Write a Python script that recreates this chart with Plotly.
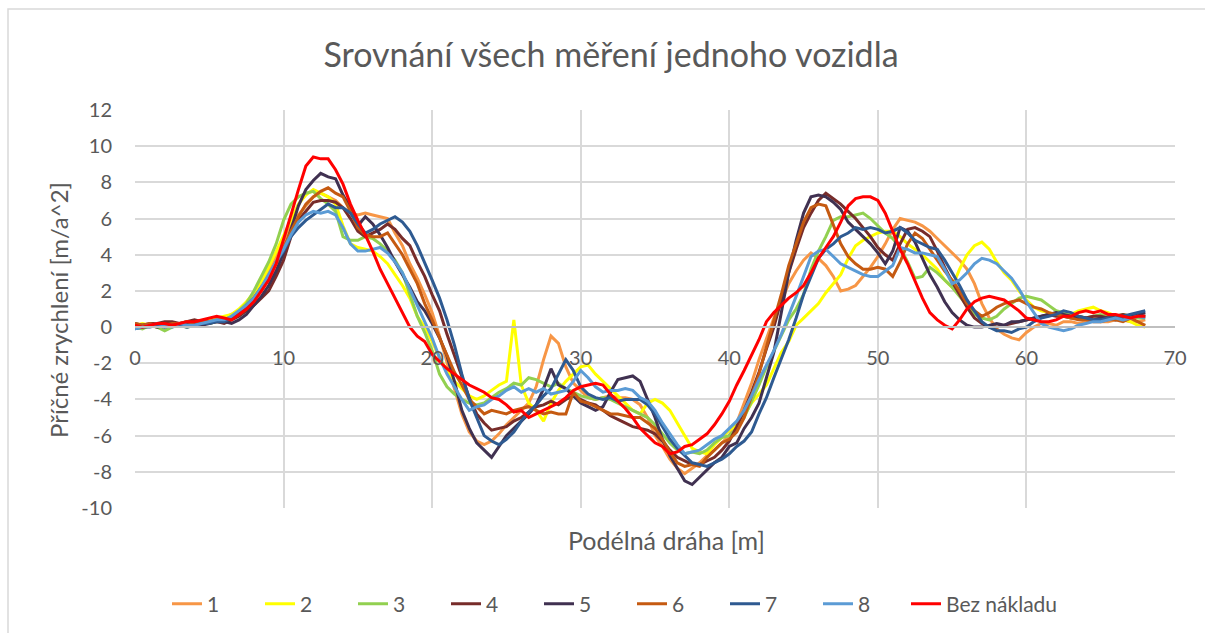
import plotly.graph_objects as go

# ---------------- data ----------------
STEP_M = 0.5
distance_m = [round(STEP_M * i, 1) for i in range(137)]  # 0 .. 68 m

s1 = [0.1, 0.0, 0.1, 0.1, 0.2, 0.1, 0.2, 0.2, 0.3, 0.2,
      0.3, 0.4, 0.5, 0.7, 0.9, 1.3, 1.8, 2.4, 3.1, 3.9,
      4.8, 5.6, 6.2, 6.7, 7.2, 7.4, 7.2, 7.0, 6.6, 6.3,
      6.2, 6.3, 6.2, 6.1, 6.0, 5.2, 4.5, 3.5, 2.7, 1.8,
      0.8, -0.5, -2.0, -3.4, -4.8, -5.8, -6.3, -6.5, -6.3, -5.9,
      -5.4, -5.0, -4.6, -4.2, -3.3, -1.8, -0.5, -0.9, -2.2, -3.1,
      -3.5, -3.9, -4.0, -3.9, -3.8, -3.9, -3.9, -4.0, -4.3, -5.0,
      -6.0, -6.6, -7.3, -7.8, -8.1, -7.8, -7.5, -7.1, -6.8, -6.4,
      -6.0, -5.3, -4.2, -3.1, -1.8, -0.6, 0.5, 1.4, 2.4, 3.1,
      3.7, 4.1, 3.8, 3.4, 2.8, 2.0, 2.1, 2.3, 2.8, 3.3,
      3.9, 4.6, 5.4, 6.0, 5.9, 5.8, 5.6, 5.3, 4.9, 4.5,
      4.1, 3.7, 3.2, 2.4, 1.3, 0.5, -0.1, -0.4, -0.6, -0.7,
      -0.3, 0.0, 0.2, 0.2, 0.1, 0.3, 0.3, 0.2, 0.3, 0.4,
      0.3, 0.3, 0.4, 0.4, 0.3, 0.3, 0.4]

s2 = [0.1, 0.2, 0.1, 0.0, 0.2, 0.2, 0.1, 0.2, 0.3, 0.3,
      0.4, 0.5, 0.6, 0.7, 1.0, 1.4, 1.9, 2.5, 3.3, 4.2,
      5.1, 6.0, 6.8, 7.3, 7.6, 7.4, 7.2, 6.8, 5.6, 4.6,
      4.4, 4.3, 4.2, 3.9, 3.5, 2.9, 2.3, 1.6, 0.6, 0.0,
      -0.8, -1.7, -2.4, -3.0, -3.4, -3.8, -4.0, -3.8, -3.5, -3.2,
      -3.0, 0.4, -3.2, -4.2, -4.6, -5.2, -4.2, -3.5, -3.0, -2.6,
      -2.2, -2.1, -2.6, -3.0, -3.4, -3.8, -4.2, -4.6, -4.8, -4.2,
      -4.0, -4.2, -4.6, -5.3, -6.0, -6.7, -6.9, -7.0, -6.5, -6.1,
      -5.7, -5.4, -4.9, -4.2, -3.7, -3.2, -2.3, -1.4, -0.8, 0.1,
      0.5, 0.9, 1.3, 1.9, 2.4, 2.9, 3.8, 4.5, 4.8, 5.0,
      5.2, 5.3, 5.3, 5.0, 4.6, 4.3, 4.0, 3.6, 3.2, 2.6,
      2.2, 3.2, 4.0, 4.5, 4.7, 4.3, 3.6, 3.0, 2.6, 2.0,
      1.5, 1.1, 0.9, 0.8, 0.7, 0.8, 0.7, 0.9, 1.0, 1.1,
      0.9, 0.8, 0.6, 0.4, 0.3, 0.1, 0.0]

s3 = [0.0, -0.1, 0.1, 0.0, -0.2, 0.0, 0.1, 0.0, 0.1, 0.2,
      0.2, 0.3, 0.4, 0.6, 0.9, 1.3, 2.0, 2.8, 3.6, 4.6,
      5.9, 6.8, 7.2, 7.4, 7.5, 7.1, 6.8, 6.4, 5.0, 4.8,
      4.8, 5.0, 4.9, 4.6, 4.2, 3.7, 3.0, 1.8, 0.6, -0.3,
      -1.3, -2.6, -3.3, -3.7, -4.0, -4.2, -4.3, -4.2, -3.9, -3.6,
      -3.4, -3.1, -3.2, -2.8, -2.9, -3.1, -3.3, -3.1, -3.4, -3.6,
      -3.8, -3.9, -4.0, -3.9, -4.0, -4.2, -4.4, -4.6, -4.8, -5.0,
      -5.4, -5.9, -6.4, -6.8, -7.0, -6.9, -7.0, -6.8, -6.4, -6.1,
      -6.0, -5.6, -5.0, -4.1, -3.2, -2.2, -1.3, -0.4, 0.4, 1.0,
      1.8, 3.2, 4.2, 5.0, 5.9, 6.1, 6.1, 6.2, 6.3, 6.0,
      5.6, 5.2, 4.9, 4.4, 3.6, 2.7, 2.8, 3.3, 3.0, 2.6,
      2.2, 1.7, 1.2, 0.7, 0.5, 0.4, 0.6, 1.0, 1.3, 1.6,
      1.7, 1.6, 1.5, 1.2, 0.9, 0.8, 0.6, 0.6, 0.5, 0.6,
      0.7, 0.6, 0.6, 0.7, 0.6, 0.5, 0.5]

s4 = [0.2, 0.1, 0.2, 0.2, 0.3, 0.3, 0.2, 0.3, 0.4, 0.3,
      0.3, 0.3, 0.2, 0.4, 0.6, 0.9, 1.2, 1.6, 2.0, 2.8,
      3.7, 5.0, 5.9, 6.4, 6.9, 7.0, 7.0, 6.9, 6.6, 6.0,
      5.3, 5.0, 5.2, 5.4, 5.7, 5.4, 4.9, 4.5, 3.6, 2.8,
      1.8, 0.9, -0.4, -1.6, -2.8, -3.9, -4.8, -5.3, -5.7, -5.6,
      -5.5, -5.2, -5.0, -4.7, -4.4, -4.3, -4.1, -4.3, -4.0, -3.8,
      -4.0, -4.2, -4.3, -4.6, -4.9, -5.1, -5.3, -5.5, -5.6, -5.7,
      -5.9, -6.3, -6.8, -7.2, -7.4, -7.6, -7.6, -7.4, -7.2, -6.8,
      -6.3, -5.5, -4.6, -3.6, -2.5, -1.2, 0.0, 1.5, 3.0, 4.3,
      5.5, 6.3, 7.0, 7.4, 7.1, 6.8, 6.4, 6.0, 5.5, 5.0,
      4.4, 4.0, 3.7, 4.6, 5.4, 5.5, 5.3, 5.0, 4.2, 3.3,
      2.5, 1.8, 1.1, 0.5, 0.2, 0.0, 0.0, 0.1, 0.2, 0.3,
      0.4, 0.5, 0.6, 0.7, 0.6, 0.6, 0.5, 0.6, 0.5, 0.6,
      0.6, 0.5, 0.6, 0.7, 0.6, 0.7, 0.6]

s5 = [0.0, 0.1, 0.1, 0.0, 0.1, 0.2, 0.1, 0.2, 0.2, 0.1,
      0.2, 0.3, 0.3, 0.2, 0.4, 0.7, 1.2, 1.7, 2.3, 3.1,
      4.1, 5.4, 6.7, 7.6, 8.1, 8.5, 8.3, 8.2, 7.3, 6.6,
      5.6, 6.1, 5.7, 5.1, 4.4, 3.6, 2.9, 2.2, 1.4, 0.9,
      0.2, -0.6, -1.6, -3.0, -4.6, -5.6, -6.4, -6.8, -7.2, -6.6,
      -6.0, -5.6, -5.2, -4.8, -4.3, -3.4, -2.3, -3.2, -3.4, -3.8,
      -4.2, -4.4, -4.6, -4.4, -3.6, -2.9, -2.8, -2.7, -3.0, -4.0,
      -5.0, -6.2, -7.1, -7.8, -8.5, -8.7, -8.3, -7.9, -7.5, -7.2,
      -6.6, -6.4, -5.6, -5.0, -4.2, -2.8, -1.4, 0.8, 3.0, 4.8,
      6.3, 7.2, 7.3, 7.2, 6.9, 6.5, 5.8, 5.4, 5.0, 4.6,
      4.1, 3.5, 4.2, 5.5, 5.3, 4.7, 3.8, 2.9, 2.2, 1.4,
      0.8, 0.4, 0.1, 0.0, 0.0, 0.1, 0.2, 0.1, 0.3, 0.3,
      0.4, 0.5, 0.6, 0.7, 0.8, 0.7, 0.6, 0.5, 0.5, 0.4,
      0.5, 0.5, 0.4, 0.5, 0.6, 0.7, 0.8]

s6 = [0.2, 0.1, 0.2, 0.1, 0.1, 0.2, 0.2, 0.3, 0.2, 0.3,
      0.3, 0.4, 0.4, 0.5, 0.7, 1.0, 1.5, 2.0, 2.7, 3.5,
      4.4, 5.3, 6.1, 6.8, 7.2, 7.5, 7.7, 7.4, 7.2, 6.4,
      5.5, 5.1, 5.0, 5.0, 5.2, 4.6, 4.0, 3.2, 2.4, 1.3,
      0.4, -0.6, -1.6, -2.5, -3.2, -4.0, -4.4, -4.8, -4.6, -4.7,
      -4.8, -4.6, -4.5, -4.4, -4.6, -4.8, -4.7, -4.8, -4.8, -3.6,
      -4.1, -4.2, -4.4, -4.6, -4.8, -4.8, -4.9, -5.0, -5.0, -5.3,
      -5.6, -6.2, -6.9, -7.5, -7.7, -7.6, -7.7, -7.2, -6.8, -6.4,
      -6.2, -5.8, -5.0, -3.8, -2.6, -1.1, 0.3, 1.8, 3.4, 4.6,
      5.8, 6.6, 6.8, 6.7, 5.7, 4.6, 3.9, 3.5, 3.2, 3.2,
      3.3, 3.2, 2.8, 3.6, 4.6, 5.2, 4.9, 4.3, 3.7, 3.1,
      2.6, 2.0, 1.3, 0.9, 0.6, 0.8, 1.1, 1.3, 1.4, 1.5,
      1.3, 1.1, 1.0, 0.8, 0.7, 0.6, 0.5, 0.4, 0.4, 0.3,
      0.3, 0.4, 0.4, 0.3, 0.5, 0.3, 0.1]

s7 = [-0.1, 0.0, 0.0, 0.1, 0.0, 0.1, 0.1, 0.0, 0.1, 0.2,
      0.2, 0.3, 0.3, 0.5, 0.8, 1.2, 1.6, 2.2, 2.8, 3.6,
      4.2, 5.0, 5.5, 5.9, 6.2, 6.5, 6.8, 6.6, 6.6, 6.3,
      5.7, 5.2, 5.4, 5.7, 5.9, 6.1, 5.8, 5.3, 4.5, 3.6,
      2.6, 1.6, 0.4, -1.0, -2.6, -4.0, -5.0, -6.0, -6.3, -6.5,
      -6.2, -5.8, -5.2, -4.7, -4.3, -3.8, -3.4, -2.6, -1.8, -2.4,
      -3.3, -3.7, -3.9, -4.0, -3.9, -4.1, -4.0, -4.0, -4.0, -4.3,
      -4.8, -5.5, -6.2, -6.7, -7.1, -7.5, -7.6, -7.7, -7.5, -7.3,
      -7.0, -6.6, -6.3, -5.8, -4.8, -3.9, -2.8, -1.8, -0.7, 0.5,
      1.8, 2.8, 3.8, 4.3, 4.6, 5.0, 5.2, 5.5, 5.4, 5.5,
      5.4, 5.2, 5.3, 5.5, 5.2, 4.8, 4.6, 4.4, 4.3, 3.7,
      3.0, 2.3, 1.5, 0.9, 0.3, 0.0, -0.2, -0.2, -0.3, -0.1,
      0.0, 0.3, 0.5, 0.6, 0.7, 0.9, 0.8, 0.6, 0.5, 0.4,
      0.4, 0.5, 0.5, 0.6, 0.7, 0.8, 0.9]

s8 = [-0.1, 0.0, 0.1, 0.2, 0.1, 0.0, 0.2, 0.1, 0.1, 0.2,
      0.3, 0.4, 0.4, 0.6, 0.9, 1.2, 1.6, 2.2, 2.9, 3.6,
      4.3, 5.1, 5.8, 6.2, 6.4, 6.3, 6.4, 6.2, 5.5, 4.6,
      4.2, 4.2, 4.3, 4.4, 4.1, 3.6, 3.0, 2.1, 1.2, 0.3,
      -0.6, -1.7, -2.6, -3.3, -4.0, -4.6, -4.4, -4.3, -4.0, -3.8,
      -3.5, -3.3, -3.6, -3.4, -3.6, -3.4, -3.7, -3.6, -3.5, -3.0,
      -2.4, -2.8, -3.3, -3.6, -3.5, -3.5, -3.4, -3.5, -3.9, -4.1,
      -4.6, -5.3, -5.9, -6.5, -7.0, -6.9, -6.8, -6.5, -6.2, -6.0,
      -5.6, -5.2, -4.6, -3.8, -2.9, -2.1, -1.3, -0.4, 0.6, 1.7,
      2.8, 3.9, 4.2, 4.3, 3.9, 3.5, 3.3, 3.1, 2.9, 2.8,
      2.8, 3.1, 3.4, 4.4, 4.3, 4.1, 4.1, 4.0, 3.9, 3.2,
      2.4, 2.6, 3.0, 3.5, 3.8, 3.7, 3.5, 3.1, 2.7, 2.1,
      1.4, 0.8, 0.2, 0.0, -0.1, -0.2, -0.1, 0.1, 0.2, 0.3,
      0.3, 0.4, 0.5, 0.4, 0.5, 0.6, 0.5]

bez_nakladu = [0.1, 0.0, 0.1, 0.2, 0.2, 0.1, 0.2, 0.3, 0.3, 0.4,
               0.5, 0.6, 0.5, 0.4, 0.7, 1.0, 1.4, 2.0, 2.6, 3.5,
               4.8, 6.2, 7.6, 8.9, 9.4, 9.3, 9.3, 8.7, 7.9, 6.8,
               5.9, 5.1, 4.2, 3.2, 2.4, 1.6, 0.8, 0.0, -0.5, -0.8,
               -1.5, -1.9, -2.3, -2.6, -2.9, -3.2, -3.4, -3.6, -3.9, -4.0,
               -4.3, -4.7, -4.6, -5.0, -4.8, -4.6, -4.4, -4.2, -3.9, -3.5,
               -3.3, -3.2, -3.1, -3.2, -3.7, -4.1, -4.5, -5.0, -5.6, -6.0,
               -6.4, -6.6, -7.0, -6.9, -6.6, -6.5, -6.2, -5.9, -5.4, -4.8,
               -4.1, -3.2, -2.4, -1.5, -0.7, 0.3, 0.8, 1.2, 1.6, 1.9,
               2.3, 3.0, 3.8, 4.4, 5.0, 5.8, 6.7, 7.1, 7.2, 7.2,
               7.0, 6.3, 5.3, 4.3, 3.5, 2.5, 1.6, 0.8, 0.4, 0.1,
               -0.1, 0.4, 1.0, 1.4, 1.6, 1.7, 1.6, 1.5, 1.2, 0.9,
               0.5, 0.4, 0.3, 0.3, 0.4, 0.6, 0.6, 0.8, 0.9, 0.8,
               0.9, 0.7, 0.7, 0.6, 0.5, 0.6, 0.6]

series_names = ["1", "2", "3", "4", "5", "6", "7", "8", "Bez nákladu"]
series_values = [s1, s2, s3, s4, s5, s6, s7, s8, bez_nakladu]
series_colors = ["#F79646", "#FFFF00", "#92D050", "#772C2A", "#403151",
                 "#C55A11", "#2E5A91", "#5B9BD5", "#FF0000"]

x_ticks = [0, 10, 20, 30, 40, 50, 60, 70]
y_ticks = [-10, -8, -6, -4, -2, 0, 2, 4, 6, 8, 10, 12]

title_text = "Srovnání všech měření jednoho vozidla"
x_title = "Podélná dráha [m]"
y_title = "Příčné zrychlení [m/a^2]"

# ---------------- figure ----------------
FONT = "Lato"
GRAY_TXT = "#595959"
GRID = "#D9D9D9"

W, H = 1205, 633
ML, MR, MT, MB = 135, 30, 110, 125
plot_w = W - ML - MR
plot_h = H - MT - MB
bottom_px = MT + plot_h


def px_y(py):
    """pixel row -> paper y"""
    return (bottom_px - py) / plot_h


def px_x(px):
    """pixel column -> paper x"""
    return (px - ML) / plot_w


fig = go.Figure()
for name, vals, col in zip(series_names, series_values, series_colors):
    legend_id = "legend2" if name == "Bez nákladu" else "legend"
    fig.add_trace(go.Scatter(x=distance_m, y=vals, mode="lines", name=name,
                             legend=legend_id,
                             line=dict(color=col, width=3)))

y_min, y_max = -10, 12
zero_pos = (0 - y_min) / (y_max - y_min)

fig.update_layout(
    width=W, height=H,
    margin=dict(l=ML, r=MR, t=MT, b=MB, autoexpand=False),
    paper_bgcolor="white", plot_bgcolor="white",
    font=dict(family=FONT, color=GRAY_TXT, size=20),
    title=dict(text=title_text, x=611 / W, xanchor="center",
               y=1 - 55 / H, yanchor="middle",
               font=dict(family=FONT, size=34, color=GRAY_TXT)),
    showlegend=True,
    legend=dict(orientation="h", x=px_x(167), xanchor="left",
                y=px_y(604), yanchor="middle",
                font=dict(size=21, color=GRAY_TXT), entrywidth=48,
                bgcolor="rgba(0,0,0,0)"),
    legend2=dict(orientation="h", x=px_x(906), xanchor="left",
                 y=px_y(604), yanchor="middle",
                 font=dict(size=21, color=GRAY_TXT),
                 bgcolor="rgba(0,0,0,0)"),
)

fig.update_xaxes(range=[0, 70], tickvals=x_ticks, ticktext=[str(v) for v in x_ticks],
                 showgrid=True, gridcolor=GRID, gridwidth=2,
                 zeroline=False, showline=True, linecolor="#BFBFBF", linewidth=2,
                 anchor="free", position=zero_pos,
                 ticks="outside", ticklen=13, tickcolor="rgba(0,0,0,0)",
                 tickfont=dict(size=20, color=GRAY_TXT))
fig.update_yaxes(range=[y_min, y_max], tickvals=y_ticks, ticktext=[str(v) for v in y_ticks],
                 showgrid=True, gridcolor=GRID, gridwidth=2,
                 zeroline=False, showline=False,
                 ticks="outside", ticklen=18, tickcolor="rgba(0,0,0,0)",
                 tickfont=dict(size=20, color=GRAY_TXT))

# axis titles (Excel places the x title below the plot area, not at the axis line)
fig.add_annotation(text=x_title, xref="paper", yref="paper",
                   x=px_x(666), y=px_y(540),
                   xanchor="center", yanchor="middle", showarrow=False,
                   font=dict(size=25, color=GRAY_TXT, family=FONT))
fig.add_annotation(text=y_title, xref="paper", yref="paper",
                   x=px_x(58), y=px_y(310), textangle=-90,
                   xanchor="center", yanchor="middle", showarrow=False,
                   font=dict(size=24, color=GRAY_TXT, family=FONT))

# chart-area frame (light gray, top/left visible)
fig.add_shape(type="rect", xref="paper", yref="paper",
              x0=px_x(8), x1=px_x(1220), y0=px_y(650), y1=px_y(9),
              line=dict(color=GRID, width=1.5), layer="below")

fig.write_html("out.html",
               config={"displayModeBar": False},
               post_script="document.body.style.margin='0px';"
                           "document.body.style.overflow='hidden';")
